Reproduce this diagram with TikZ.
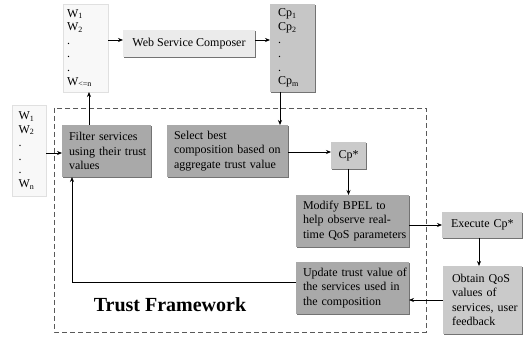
\documentclass[tikz,border=0pt]{standalone}
\usepackage{fontspec}
\setmainfont{Liberation Serif}
\usetikzlibrary{arrows.meta,shadows}
\begin{document}
\begin{tikzpicture}[x=1pt,y=-1pt,
  base/.style={inner sep=0pt, outer sep=0pt, font=\fontsize{12}{14.5}\selectfont,
    drop shadow={shadow xshift=1.3pt, shadow yshift=-1.3pt, fill=black!55, opacity=1}},
  listbox/.style={base, fill=listfill, draw=black!12, line width=0.4pt, align=left,
    font=\fontsize{12}{13.6}\selectfont},
  lightbox/.style={base, fill=lightfill},
  midbox/.style={base, fill=midfill},
  darkbox/.style={base, fill=darkfill, align=left},
  arr/.style={-{Stealth[length=5pt,width=4pt]}, line width=0.7pt},
  ln/.style={line width=0.7pt},
  frame/.style={dashed, dash pattern=on 5pt off 3pt, line width=0.9pt, draw=black!65}
]
\definecolor{listfill}{HTML}{F8F8F8}
\definecolor{lightfill}{HTML}{EBEBEB}
\definecolor{midfill}{HTML}{CACACA}
\definecolor{darkfill}{HTML}{A9A9A9}
\definecolor{cpfill}{HTML}{C6C6C6}
\useasboundingbox (0,0) rectangle (525,339);

% dashed trust framework frame
\draw[frame] (54,108) rectangle (426,332);
\node[font=\fontsize{20}{24}\selectfont\bfseries] (tf) at (170,305) {Trust Framework};

% lists
\node[listbox, minimum width=45pt, minimum height=88pt, text width=37pt] (wtop) at (85.5,48)
  {W\textsubscript{1}\\W\textsubscript{2}\\.\\.\\.\\W\textsubscript{<=n}};
\node[lightbox, minimum width=132pt, minimum height=27pt, align=center] (wsc) at (189,43.5)
  {Web Service Composer};
\node[base, fill=cpfill, minimum width=45pt, minimum height=88pt, text width=29pt, align=left,
  font=\fontsize{12}{13.6}\selectfont] (cp) at (292.5,48)
  {Cp\textsubscript{1}\\Cp\textsubscript{2}\\.\\.\\.\\Cp\textsubscript{m}};
\node[listbox, minimum width=34pt, minimum height=91pt, text width=21pt] (wleft) at (29,150.5)
  {W\textsubscript{1}\\W\textsubscript{2}\\.\\.\\.\\W\textsubscript{n}};

% process boxes
\node[darkbox, minimum width=89pt, minimum height=52pt, text width=75pt] (filter) at (106.5,151)
  {\mbox{Filter services}\\\mbox{using their trust}\\values};
\node[darkbox, minimum width=121pt, minimum height=52pt, text width=107pt] (select) at (227.5,151)
  {Select best\\\mbox{composition based on}\\\mbox{aggregate trust value}};
\node[midbox, minimum width=35pt, minimum height=27pt, align=center] (cpstar) at (348.5,155.5) {Cp*};
\node[darkbox, minimum width=113pt, minimum height=52pt, text width=99pt] (modify) at (352.5,221)
  {\mbox{Modify BPEL to}\\\mbox{help observe real-}\\\mbox{time QoS parameters}};
\node[midbox, minimum width=80pt, minimum height=26pt, text width=62pt, align=left] (execute) at (482,225)
  {\mbox{Execute Cp*}};
\node[midbox, minimum width=79pt, minimum height=68pt, text width=61pt, align=left] (obtain) at (482.5,300)
  {Obtain QoS\\values of\\\mbox{services, user}\\feedback};
\node[darkbox, minimum width=113pt, minimum height=52pt, text width=99pt] (update) at (352.5,288)
  {\mbox{Update trust value of}\\\mbox{the services used in}\\the composition};

% connectors
\draw[arr] (wtop.east |- 0,40) -- (wsc.west |- 0,40);
\draw[arr] (wsc.east |- 0,40) -- (cp.west |- 0,40);
\draw[arr] (filter.north -| 89,0) -- (wtop.south -| 89,0);
\draw[arr] (cp.south -| 280,0) -- (select.north -| 280,0);
\draw[arr] (wleft.east |- 0,153) -- (filter.west |- 0,153);
\draw[arr] (select.east |- 0,152) -- (cpstar.west |- 0,152);
\draw[arr] (cpstar.south) -- (cpstar.south |- modify.north);
\draw[arr] (modify.east |- execute.west) -- (execute.west);
\draw[arr] (execute.south -| 479,0) -- (obtain.north -| 479,0);
\draw[arr] (obtain.west) -- (obtain.west -| update.east);
\coordinate (fbk) at (72,282);
\draw[arr] (update.west |- fbk) -- (fbk) -- (filter.south -| fbk);
\end{tikzpicture}
\end{document}
